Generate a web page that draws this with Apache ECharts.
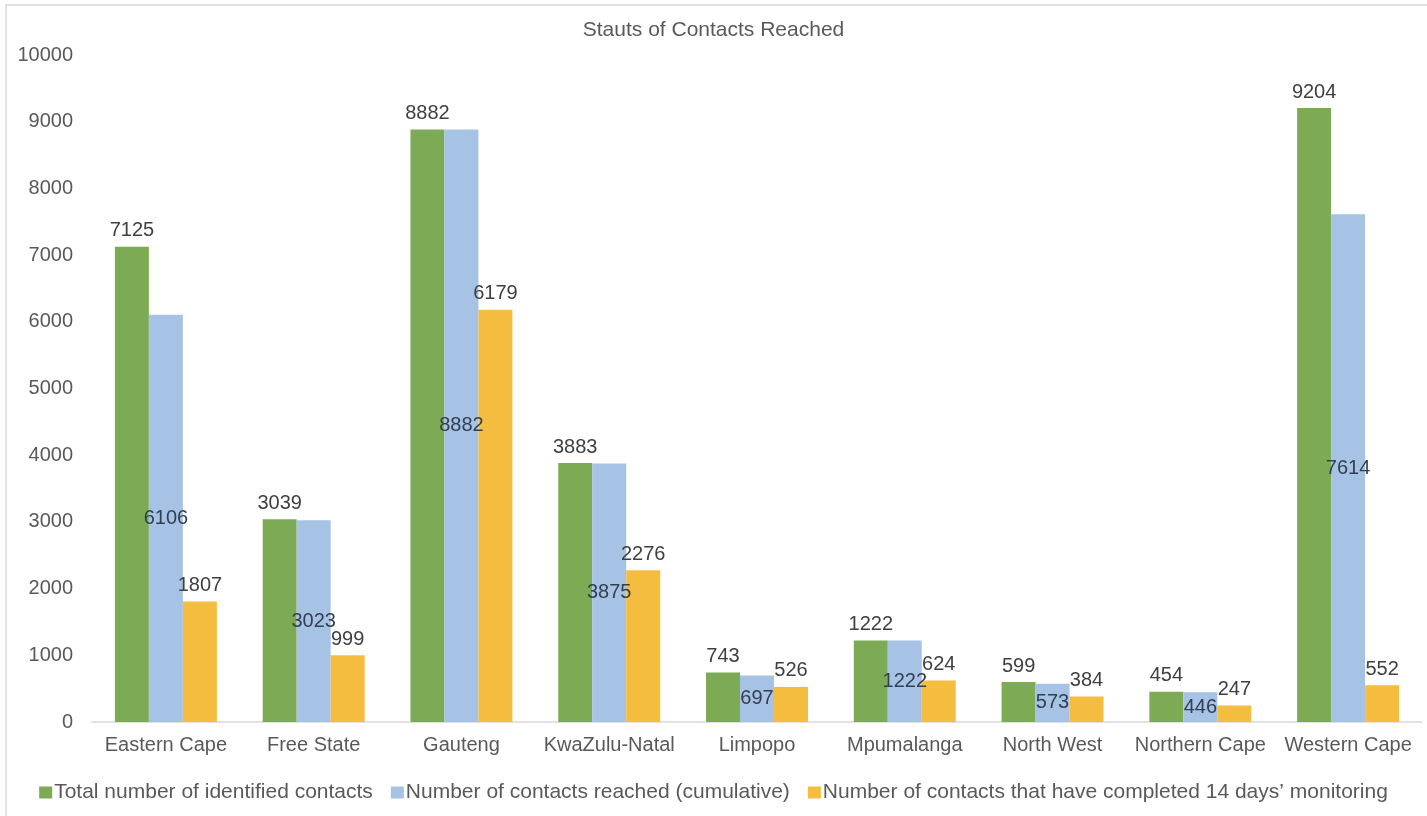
<!DOCTYPE html>
<html><head><meta charset="utf-8">
<script src="https://cdn.jsdelivr.net/npm/echarts@6/dist/echarts.min.js"></script>
<style>html,body{margin:0;padding:0;background:#fff}#c{width:1427px;height:816px}</style>
</head><body><div id="c"></div>
<script>
const categories = ['Eastern Cape','Free State','Gauteng','KwaZulu-Natal','Limpopo','Mpumalanga','North West','Northern Cape','Western Cape'];
const totalIdentified = [7125,3039,8882,3883,743,1222,599,454,9204];
const reached = [6106,3023,8882,3875,697,1222,573,446,7614];
const completed = [1807,999,6179,2276,526,624,384,247,552];
const seriesNames = ['Total number of identified contacts','Number of contacts reached (cumulative)','Number of contacts that have completed 14 days\u2019 monitoring'];
const yTicks = {min:0,max:10000,interval:1000};

const font = 'Liberation Sans, Arial, sans-serif';
const fs = 20;
const chart = echarts.init(document.getElementById('c'));
const lbl = (pos) => ({show:true,position:pos,distance:6,color:'#404040',fontSize:fs,fontFamily:font});
chart.setOption({
  animation:false,
  title:{text:'Stauts of Contacts Reached',left:'center',top:15,textStyle:{color:'#595959',fontSize:21,fontWeight:'normal',fontFamily:font}},
  graphic:[{type:'rect',shape:{x:6,y:5,width:1430,height:830},style:{fill:'none',stroke:'#d9d9d9',lineWidth:1.5},silent:true}],
  legend:{bottom:8,left:'center',itemWidth:13,itemHeight:12,itemGap:18,icon:'rect',
    textStyle:{color:'#595959',fontSize:21,fontFamily:font,padding:[0,0,0,-3]}},
  grid:{left:92,right:5,top:55,bottom:94,containLabel:false},
  xAxis:{type:'category',data:categories,axisLine:{lineStyle:{color:'#d9d9d9',width:1.5}},axisTick:{show:false},
    axisLabel:{color:'#595959',fontSize:fs,fontFamily:font,margin:13,interval:0,hideOverlap:false}},
  yAxis:{type:'value',min:yTicks.min,max:yTicks.max,interval:yTicks.interval,splitLine:{show:false},axisLine:{show:false},axisTick:{show:false},
    axisLabel:{color:'#595959',fontSize:fs,fontFamily:font,margin:19,formatter:(v)=>String(v)}},
  series:[
    {name:seriesNames[0],type:'bar',data:totalIdentified,barGap:'0%',barCategoryGap:'31%',itemStyle:{color:'#7DAB55'},label:lbl('top')},
    {name:seriesNames[1],type:'bar',data:reached,itemStyle:{color:'#A6C3E5'},label:Object.assign(lbl('inside'),{color:'#333f50'})},
    {name:seriesNames[2],type:'bar',data:completed,itemStyle:{color:'#F5BD3F'},label:lbl('top')}
  ]
});
</script></body></html>
